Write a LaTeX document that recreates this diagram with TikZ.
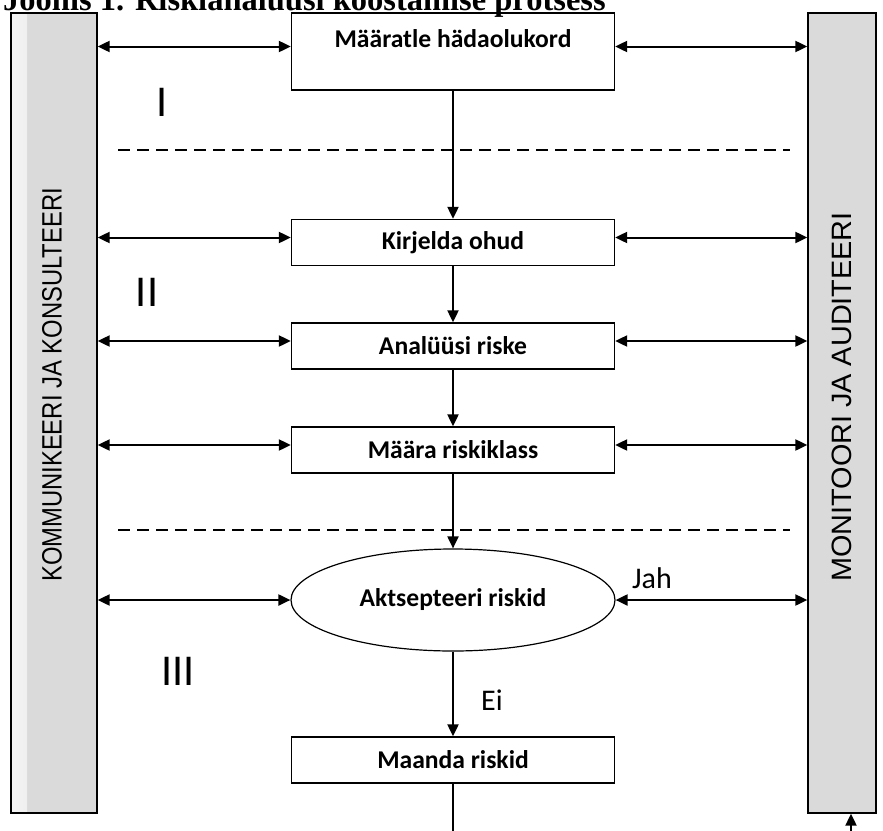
\documentclass[tikz,border=0pt]{standalone}
\usepackage{fontspec}
\setmainfont{Carlito}
\newfontfamily\sidefont{Liberation Sans}[FakeStretch=0.85]
\newfontfamily\sidefontwide{Liberation Sans}[FakeStretch=1.03]
\newfontfamily\titlefont{Liberation Serif}
\usetikzlibrary{arrows.meta,shapes.geometric}
\definecolor{sidegray}{HTML}{DADADA}

\begin{document}
\begin{tikzpicture}[
		x=1pt, y=-1pt,
		every node/.style={inner sep=0pt},
		stepbox/.style={rectangle, draw, line width=1.3pt, minimum width=323pt, minimum height=46pt, font=\fontsize{25.6}{28}\selectfont\bfseries},
		sidebox/.style={rectangle, draw, line width=1.3pt, fill=sidegray},
		sidelabel/.style={rotate=90, anchor=west, font=\sidefont\fontsize{28}{30}\selectfont},
		phase/.style={font=\fontsize{44}{46}\selectfont},
		answer/.style={font=\fontsize{30}{32}\selectfont},
		flow/.style={line width=2pt, -{Triangle[length=12pt,width=11pt]}},
		link/.style={line width=2pt, {Triangle[length=12pt,width=11pt]}-{Triangle[length=12pt,width=11pt]}},
		divider/.style={line width=2pt, dash pattern=on 12pt off 7pt}
	]
  \clip (0,0) rectangle (883,830);
  \fill [white] (0,0) rectangle (883,830);
  \node (title) [anchor=base west, font=\titlefont\bfseries\fontsize{32.5}{34}\selectfont] at (3, 10) {Joonis 1. Riskianalüüsi koostamise protsess};
  % side bars
  \node (side_l) [sidebox, minimum width=86pt, minimum height=800pt,
    path picture={\shade [left color=white!70!sidegray, right color=sidegray] (path picture bounding box.south west) rectangle ([xshift=16pt]path picture bounding box.north west);}] at (54, 413) {};
  \node (side_r) [sidebox, minimum width=68pt, minimum height=800pt] at (842, 413) {};
  \node (side_l_label) [sidelabel] at (52, 582) {KOMMUNIKEERI JA KONSULTEERI};
  \node (side_r_label) [sidelabel, font=\sidefontwide\fontsize{28}{30}\selectfont] at (842, 582) {MONITOORI JA AUDITEERI};
  % process steps
  \node (maaratle) [stepbox, minimum height=0pt, anchor=base, text height=34pt, text depth=43pt] at (453, 47) {Määratle hädaolukord};
  \node (kirjelda) [stepbox] at (453, 242.5) {Kirjelda ohud};
  \node (analuusi) [stepbox] at (453, 346) {Analüüsi riske};
  \node (maara) [stepbox] at (453, 450) {Määra riskiklass};
  \node (aktsepteeri) [ellipse, draw, line width=1.2pt, minimum width=324pt, minimum height=102pt, font=\fontsize{25.6}{28}\selectfont\bfseries] at (453, 600) {Aktsepteeri riskid};
  \node (maanda) [stepbox] at (453, 760) {Maanda riskid};
  \node (phase_1) [phase] at (162, 102) {I};
  \node (phase_2) [phase] at (147, 292) {II};
  \node (phase_3) [phase] at (178, 671) {III};
  \node (jah) [answer] at (652, 578) {Jah};
  \node (ei) [answer] at (492, 700) {Ei};
  \coordinate (div_1_l) at (118, 150);
  \coordinate (div_1_r) at (790, 150);
  \coordinate (div_2_l) at (118, 530);
  \coordinate (div_2_r) at (790, 530);
  \coordinate (out_end) at (453, 835);
  \coordinate (in_start) at (851, 835);
  \draw [divider] (div_1_l) -- (div_1_r);
  \draw [divider] (div_2_l) -- (div_2_r);
  % flow
  \draw [flow] (maaratle) -- (kirjelda);
  \draw [flow] (kirjelda) -- (analuusi);
  \draw [flow] (analuusi) -- (maara);
  \draw [flow] (maara) -- (aktsepteeri);
  \draw [flow] (aktsepteeri) -- (maanda);
  \draw [line width=2pt] (maanda) -- (out_end);
  \draw [flow] (in_start) -- (in_start |- side_r.south);
  \foreach \b in {maaratle, kirjelda, analuusi, maara} {
    \draw [link] ([yshift=5pt]\b.west) -- ([yshift=5pt]side_l.east |- \b.west);
    \draw [link] ([yshift=5pt]\b.east) -- ([yshift=5pt]side_r.west |- \b.east);
  }
  \draw [link] (aktsepteeri.west) -- (side_l.east |- aktsepteeri.west);
  \draw [link] (aktsepteeri.east) -- (side_r.west |- aktsepteeri.east);
\end{tikzpicture}
\end{document}
